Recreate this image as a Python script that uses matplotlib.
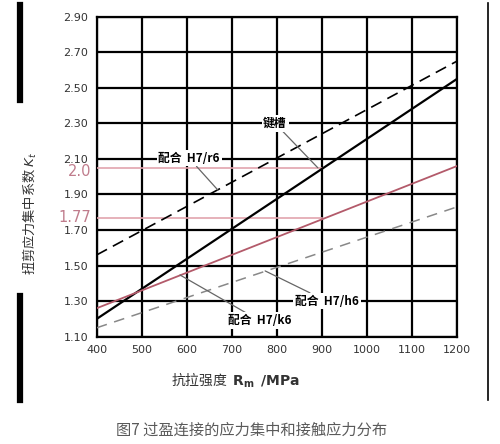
import matplotlib.pyplot as plt
from matplotlib.lines import Line2D

plt.rcParams["font.family"] = ["DejaVu Sans", "Noto Sans CJK SC"]

# Data (tensile strength vs. torsional stress concentration factor)
rm = [400, 1200]
keyway = [1.20, 2.55]        # 键槽, solid black
fit_r6 = [1.56, 2.65]        # 配合 H7/r6, dashed black
fit_k6 = [1.26, 2.06]        # 配合 H7/k6, rose solid
fit_h6 = [1.15, 1.83]        # 配合 H7/h6, gray dashed

# Reference levels marked in pink
ref_levels = [2.05, 1.77]
ref_labels = ["2.0", "1.77"]
ref_end = [900, 900]

xticks = list(range(400, 1201, 100))
yticks = [1.10, 1.30, 1.50, 1.70, 1.90, 2.10, 2.30, 2.50, 2.70, 2.90]

fig = plt.figure(figsize=(5, 4.44), dpi=100)
ax = fig.add_axes([0.1934, 0.2417, 0.7206, 0.7207])

ax.set_xlim(400, 1200)
ax.set_ylim(1.10, 2.90)
ax.set_xticks(xticks)
ax.set_yticks(yticks)
ax.set_xticklabels([str(x) for x in xticks])
ax.set_yticklabels([f"{y:.2f}" for y in yticks])
ax.tick_params(length=0, labelsize=8, colors="#333333", pad=6)
ax.grid(True, color="black", lw=1.6)
for s in ax.spines.values():
    s.set_color("black")
    s.set_linewidth(1.6)

# pink reference lines
for lvl, end in zip(ref_levels, ref_end):
    ax.plot([400, end], [lvl, lvl], color="#e2a4ae", lw=1.2, zorder=3)
# the "2.0" label sits a little below its line in the original
label_y = [2.028, 1.77]
for y, lab in zip(label_y, ref_labels):
    ax.text(-0.015, y, lab, transform=ax.get_yaxis_transform(), ha="right",
            va="center", fontsize=10.5, color="#c07c8c", zorder=5)

ax.plot(rm, fit_r6, color="black", lw=1.2, ls=(0, (7, 4)), zorder=4)
ax.plot(rm, keyway, color="black", lw=1.6, zorder=4)
ax.plot(rm, fit_k6, color="#b35a6a", lw=1.3, zorder=4)
ax.plot(rm, fit_h6, color="#888888", lw=1.1, ls=(0, (7, 5)), zorder=4)

bbox = dict(boxstyle="square,pad=0.15", fc="white", ec="none")
lab_font = dict(fontsize=8.5, fontweight="bold", family=["Noto Sans CJK SC", "DejaVu Sans"])
arrow = dict(arrowstyle="-", color="#666666", lw=0.9, shrinkA=0, shrinkB=0)

ax.annotate("配合  H7/r6", xy=(669, 1.925), xytext=(605, 2.105), ha="center",
            va="center", bbox=bbox, arrowprops=arrow, zorder=6, **lab_font)
ax.annotate("键槽", xy=(891, 2.05), xytext=(796, 2.30), ha="center",
            va="center", bbox=bbox, arrowprops=arrow, zorder=6, **lab_font)
ax.annotate("配合  H7/h6", xy=(774, 1.47), xytext=(911, 1.30), ha="center",
            va="center", bbox=bbox, arrowprops=arrow, zorder=6, **lab_font)
ax.annotate("配合  H7/k6", xy=(585, 1.447), xytext=(762, 1.19), ha="center",
            va="center", bbox=bbox, arrowprops=arrow, zorder=6, **lab_font)

fig.text(0.06, 0.52, "扭剪应力集中系数 $K_t$", rotation=90, ha="center",
         va="center", fontsize=9.5, color="#333333",
         family=["Noto Sans CJK SC", "DejaVu Sans"])
fig.text(0.47, 0.143, "抗拉强度  $\\mathbf{R_m}$  $\\mathbf{/MPa}$", ha="center",
         va="center", fontsize=10, color="#333333",
         family=["Noto Sans CJK SC", "DejaVu Sans"])
fig.text(0.503, 0.03, "图7 过盈连接的应力集中和接触应力分布", ha="center",
         va="center", fontsize=11, color="#5a5a5a",
         family=["Noto Sans CJK SC", "DejaVu Sans"])

# scan edge marks
fig.add_artist(Line2D([0.04, 0.04], [1 - 5 / 444, 1 - 100 / 444], color="black", lw=4.5))
fig.add_artist(Line2D([0.04, 0.04], [1 - 296 / 444, 1 - 400 / 444], color="black", lw=4.5))
fig.add_artist(Line2D([0.976, 0.976], [1 - 3 / 444, 1 - 400 / 444], color="black", lw=1.2))

fig.savefig("out.png", dpi=100)
